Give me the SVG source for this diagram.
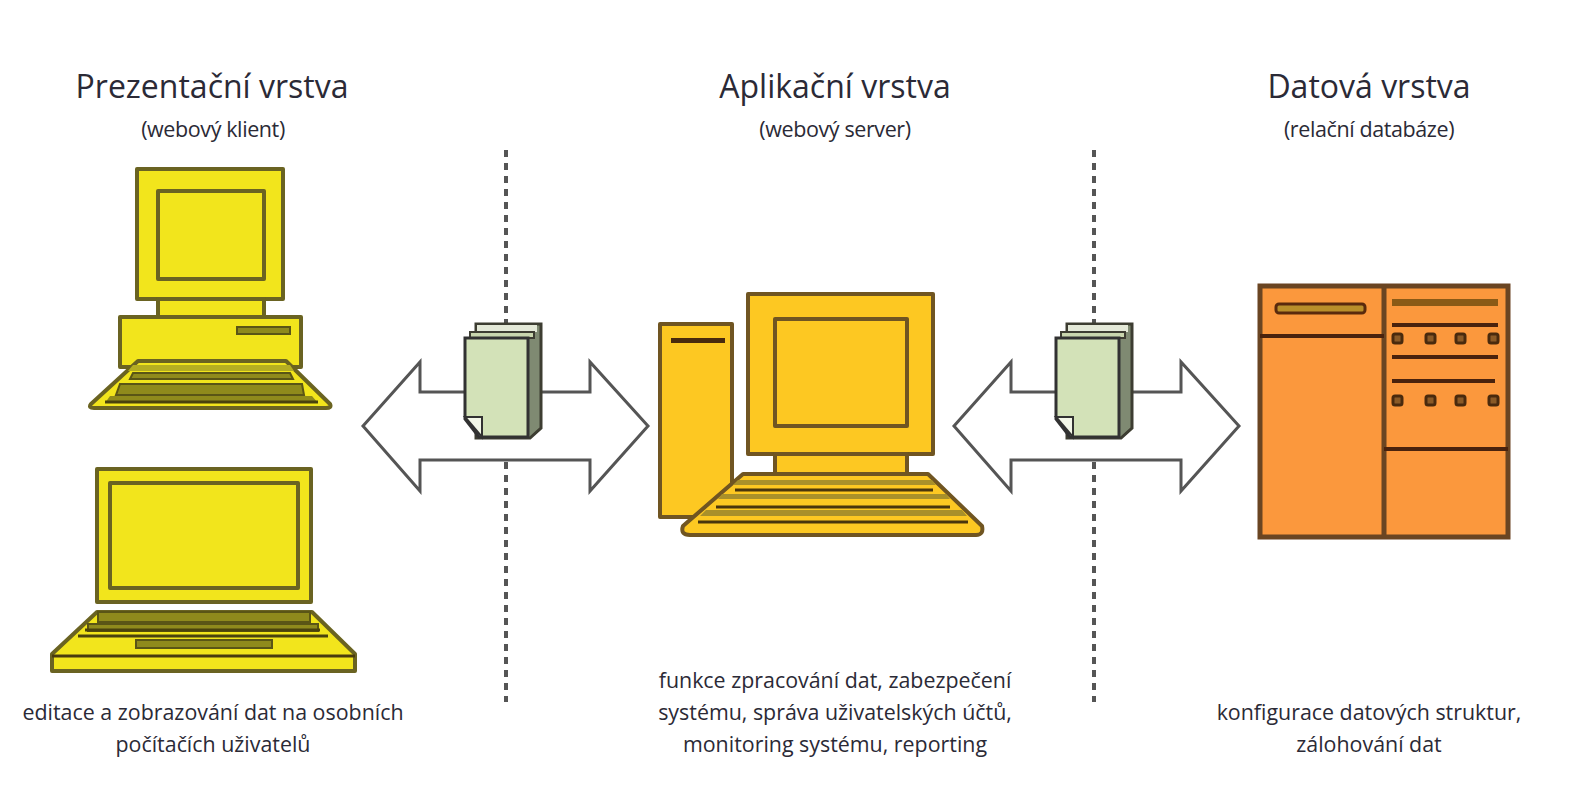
<svg xmlns="http://www.w3.org/2000/svg" width="1582" height="800" viewBox="0 0 1582 800">
<defs>
<filter id="soft" x="-5%" y="-5%" width="110%" height="110%"><feGaussianBlur stdDeviation="0.6"/></filter>
<g id="docshape">
<path d="M11 -14H76V90L65 100H11Z" fill="#7f8a72" stroke="#3c3c30" stroke-width="3"/>
<path d="M12 -13H72V-6H12Z" fill="#e4e9d8"/>
<path d="M5 -6H69V0H5Z" fill="#c9d6ae" stroke="#3c3c30" stroke-width="2"/>
<path d="M0 0H63V99H14L0 81Z" fill="#d3e2b8" stroke="#333" stroke-width="3"/>
<path d="M0 79H17V99Z" fill="#f3f7e8" stroke="#333" stroke-width="2"/>
</g>
</defs>
<style>
text{font-family:"Open Sans","Noto Sans","Liberation Sans",sans-serif;fill:#2b2a36;text-anchor:middle}
.h{font-size:32px}.s{font-size:21.5px;letter-spacing:-.4px}.b{font-size:21.4px}
.g{filter:url(#soft)}
.y{fill:#f2e51c;stroke:#6a6420;stroke-width:4;stroke-linejoin:round}
.yk{fill:#8f8a1e;stroke:#5a5412;stroke-width:2}
.yl{stroke:#4a4208;stroke-width:3;fill:none}
.o{fill:#fdc823;stroke:#6f5520;stroke-width:4;stroke-linejoin:round}
.ok{fill:#a9902a}
.ol{stroke:#4a3408;stroke-width:3;fill:none}
.d{fill:#fb983c;stroke:#6b4420;stroke-width:5}
.dl{stroke:#4a2208;stroke-width:4;fill:none}
.sq{fill:#8a5a28;stroke:#4a2a10;stroke-width:3}
.a{fill:#fff;stroke:#555;stroke-width:3}
.dash{stroke:#555;stroke-width:4;stroke-dasharray:7 6;fill:none}
</style>
<rect width="1582" height="800" fill="#fff"/>
<g id="connectors" class="g">
<path class="dash" d="M506 150V702"/>
<path class="dash" d="M1094 150V702"/>
<path id="arrow1" class="a" d="M363 426L420 362V392H590V362L648 426L590 491V460H420V491Z"/>
<path id="arrow2" class="a" d="M954 426L1011 362V392H1181V362L1239 426L1181 491V460H1011V491Z"/>
</g>
<g id="doc1" class="g"><use href="#docshape" x="465" y="338"/></g>
<g id="doc2" class="g"><use href="#docshape" x="1056" y="338"/></g>
<g id="desktop" class="g">
<rect class="y" x="137" y="169" width="146" height="130"/>
<rect class="y" x="158" y="191" width="106" height="88"/>
<rect class="y" x="158" y="299" width="106" height="18"/>
<rect class="y" x="120" y="317" width="181" height="50"/>
<rect class="yk" x="237" y="327" width="53" height="7" fill="#a8a228"/>
<path class="y" d="M138 361H286L330 404Q332 408 326 408H94Q88 408 91 404Z"/>
<path d="M133 365H290L294 371H128Z" fill="#b5ae24"/>
<path class="yk" d="M133 373H290L293 379H130Z"/>
<path class="yk" d="M120 384H302L304 395H116Z"/>
<path d="M110 396H312L318 403H105Z" fill="#8f8a1e"/>
<path class="yl" d="M105 402H318"/>
</g>
<g id="laptop" class="g">
<rect class="y" x="97" y="469" width="214" height="133"/>
<rect class="y" x="110" y="483" width="188" height="105"/>
<path class="y" d="M97 612H312L355 654V671H52V654Z"/>
<rect class="yk" x="98" y="612" width="212" height="10"/>
<rect class="yk" x="88" y="624" width="230" height="7"/>
<path class="yl" d="M85 630H320M78 636H328"/>
<rect class="yk" x="136" y="640" width="136" height="8"/>
<path d="M52 656H355" stroke="#4a3a08" stroke-width="3"/>
</g>
<g id="server" class="g">
<rect class="o" x="660" y="324" width="72" height="193"/>
<rect x="671" y="338" width="54" height="5" fill="#4a2a08"/>
<rect class="o" x="748" y="294" width="185" height="160"/>
<rect class="o" x="775" y="319" width="132" height="107"/>
<rect class="o" x="775" y="454" width="132" height="20"/>
<path class="o" d="M743 474H928L982 526Q984 535 976 535H690Q680 535 683 526Z"/>
<path class="ok" d="M738 480H932L936 485H733Z"/>
<path class="ok" d="M722 494H946L950 499H718Z"/>
<path class="ok" d="M706 510H962L967 516H700Z"/>
<path class="ol" d="M735 490H933M716 507H950M698 522H968"/>
</g>
<g id="database" class="g">
<rect class="d" x="1260" y="286" width="248" height="251"/>
<path class="d" d="M1384 286V537"/>
<path class="dl" d="M1260 336H1384M1384 449H1508"/>
<rect x="1276" y="304" width="89" height="9" rx="3" fill="#b98f2c" stroke="#5a2c0c" stroke-width="3"/>
<rect x="1392" y="299" width="106" height="7" fill="#8a5a14"/>
<path class="dl" d="M1392 325H1498M1392 357H1498M1392 381H1495"/>
<g class="sq">
<rect x="1393" y="334" width="9" height="9" rx="2"/><rect x="1426" y="334" width="9" height="9" rx="2"/><rect x="1456" y="334" width="9" height="9" rx="2"/><rect x="1489" y="334" width="9" height="9" rx="2"/>
<rect x="1393" y="396" width="9" height="9" rx="2"/><rect x="1426" y="396" width="9" height="9" rx="2"/><rect x="1456" y="396" width="9" height="9" rx="2"/><rect x="1489" y="396" width="9" height="9" rx="2"/>
</g>
</g>
<g id="labels">
<text class="h" x="212" y="98">Prezentační vrstva</text>
<text class="s" x="213" y="137">(webový klient)</text>
<text class="h" x="835" y="98">Aplikační vrstva</text>
<text class="s" x="835" y="137">(webový server)</text>
<text class="h" x="1369" y="98">Datová vrstva</text>
<text class="s" x="1369" y="137">(relační databáze)</text>
<text class="b" x="213" y="720">editace a zobrazování dat na osobních</text>
<text class="b" x="213" y="752">počítačích uživatelů</text>
<text class="b" x="835" y="688">funkce zpracování dat, zabezpečení</text>
<text class="b" x="835" y="720">systému, správa uživatelských účtů,</text>
<text class="b" x="835" y="752">monitoring systému, reporting</text>
<text class="b" x="1369" y="720">konfigurace datových struktur,</text>
<text class="b" x="1369" y="752">zálohování dat</text>
</g>
</svg>
